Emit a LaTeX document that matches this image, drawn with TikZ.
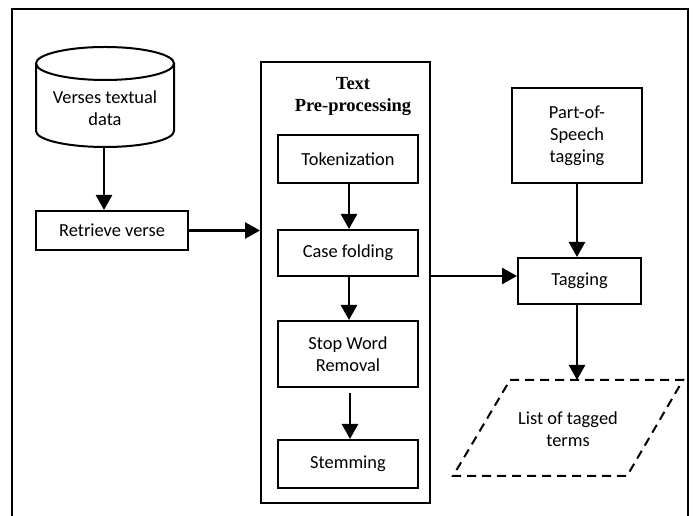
\documentclass[tikz,border=0pt]{standalone}
\usepackage{fontspec}
\setmainfont{Carlito}
\newfontfamily\titlefont{Liberation Serif}
\usetikzlibrary{arrows.meta,calc}
\begin{document}
\begin{tikzpicture}[x=1pt,y=1pt,
  every node/.style={font=\fontsize{18.4}{22}\selectfont, align=center, inner sep=0pt},
  procbox/.style={draw, line width=2pt, minimum width=#1},
  flow/.style={line width=2.6pt, -{Triangle[length=15pt,width=16pt]}},
]
\useasboundingbox (0,0) rectangle (693,516);
\clip (0,0) rectangle (693,516);

% outer frame (open at the bottom edge of the page)
\draw[line width=2.4pt] (12,-20) -- (12,507) -- (688,507) -- (688,-20);

% data store
\draw[line width=2pt] (36,452.5) -- (36,385) arc (180:360:69 and 16) -- (174,452.5);
\draw[line width=2pt] (105,452.5) ellipse (69 and 16.5);
\node (db) at (105,408) {Verses textual\\data};
\coordinate (dbbot) at (104,369);

% retrieval step
\node[procbox=152, minimum height=39pt] (retr) at (112,285.5) {Retrieve verse};

% text pre-processing block
\node[draw, line width=2pt, minimum width=169pt, minimum height=441pt] (pre) at (345.5,233.5) {};
\node[font=\titlefont\bfseries\fontsize{18.5}{22}\selectfont] (pretitle) at (353,420) {Text\\Pre-processing};
\node[procbox=140, minimum height=48pt] (tok) at (348,357) {Tokenization};
\node[procbox=140, minimum height=46pt] (case) at (348,263) {Case folding};
\node[procbox=140, minimum height=66pt] (stop) at (348,162) {Stop Word\\Removal};
\node[procbox=140, minimum height=48pt] (stem) at (348,52) {Stemming};

% tagging
\node[procbox=130, minimum height=95pt] (pos) at (577,380.5) {Part-of-\\Speech\\tagging};
\node[procbox=123, minimum height=46pt] (tag) at (579.5,235) {Tagging};

% output list
\coordinate (ltop) at (577,136);
\draw[line width=2pt, dash pattern=on 9pt off 6pt] (510,136) -- (683,136) -- (627,40) -- (453,40) -- cycle;
\node (list) at (568,87) {List of tagged\\terms};

% connectors
\draw[flow] (dbbot) -- (dbbot |- retr.north);
\draw[flow] (retr.east) -- (retr.east -| pre.west);
\draw[flow] ([xshift=1pt]tok.south) -- ([xshift=1pt]tok.south |- case.north);
\draw[flow] ([xshift=1pt]case.south) -- ([xshift=1pt]case.south |- stop.north);
\draw[flow, shorten <=5pt] ([xshift=2pt]stop.south) -- ([xshift=2pt]stop.south |- stem.north);
\draw[flow] (pos.south) -- (pos.south |- tag.north);
\draw[flow] ([yshift=5pt]pre.east |- tag.west) -- ([yshift=5pt]tag.west);
\draw[flow] (tag.south -| ltop) -- (ltop);
\end{tikzpicture}
\end{document}
